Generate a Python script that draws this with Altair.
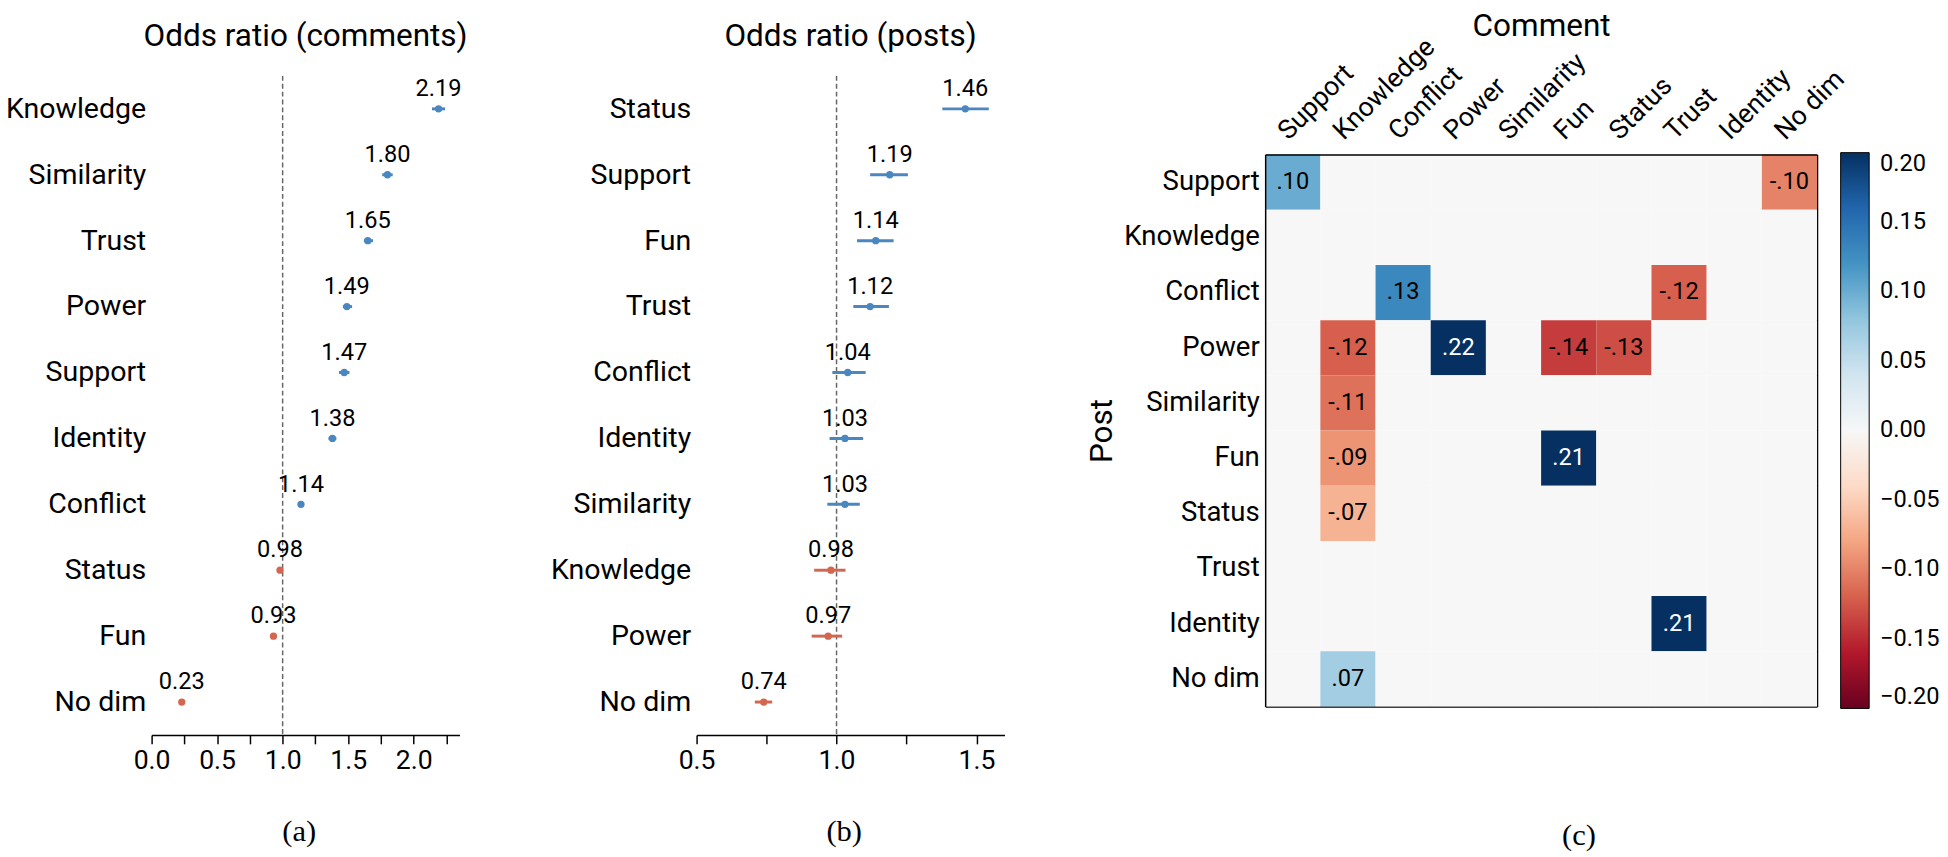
import altair as alt
import pandas as pd

FONT = "Roboto"
BLUE = "#4a87c0"
RED = "#d4664f"

# ---- Panel (a): odds ratio (comments)
cats_a = ["Knowledge", "Similarity", "Trust", "Power", "Support",
          "Identity", "Conflict", "Status", "Fun", "No dim"]
or_a = [2.19, 1.80, 1.65, 1.49, 1.47, 1.38, 1.14, 0.98, 0.93, 0.23]
lo_a = [2.14, 1.76, 1.62, 1.46, 1.43, 1.35, 1.12, 0.96, 0.91, 0.21]
hi_a = [2.24, 1.84, 1.69, 1.53, 1.51, 1.41, 1.16, 1.00, 0.95, 0.25]

# ---- Panel (b): odds ratio (posts)
cats_b = ["Status", "Support", "Fun", "Trust", "Conflict",
          "Identity", "Similarity", "Knowledge", "Power", "No dim"]
or_b = [1.46, 1.19, 1.14, 1.12, 1.04, 1.03, 1.03, 0.98, 0.97, 0.74]
lo_b = [1.378, 1.12, 1.073, 1.06, 0.985, 0.975, 0.967, 0.92, 0.911, 0.708]
hi_b = [1.544, 1.255, 1.204, 1.187, 1.104, 1.095, 1.083, 1.032, 1.02, 0.77]

# ---- Panel (c): correlation heatmap (rows = Post, columns = Comment)
dims = ["Support", "Knowledge", "Conflict", "Power", "Similarity",
        "Fun", "Status", "Trust", "Identity", "No dim"]
row_support = [0.10, 0, 0, 0, 0, 0, 0, 0, 0, -0.10]
row_knowledge = [0, 0, 0, 0, 0, 0, 0, 0, 0, 0]
row_conflict = [0, 0, 0.13, 0, 0, 0, 0, -0.12, 0, 0]
row_power = [0, -0.12, 0, 0.22, 0, -0.14, -0.13, 0, 0, 0]
row_similarity = [0, -0.11, 0, 0, 0, 0, 0, 0, 0, 0]
row_fun = [0, -0.09, 0, 0, 0, 0.21, 0, 0, 0, 0]
row_status = [0, -0.07, 0, 0, 0, 0, 0, 0, 0, 0]
row_trust = [0, 0, 0, 0, 0, 0, 0, 0, 0, 0]
row_identity = [0, 0, 0, 0, 0, 0, 0, 0.21, 0, 0]
row_nodim = [0, 0.07, 0, 0, 0, 0, 0, 0, 0, 0]
matrix = [row_support, row_knowledge, row_conflict, row_power, row_similarity,
          row_fun, row_status, row_trust, row_identity, row_nodim]
cbar_ticks = [0.20, 0.15, 0.10, 0.05, 0.00, -0.05, -0.10, -0.15, -0.20]
# diverging RdBu colour stops (low -> high)
rdbu_stops = [-0.2, -0.16, -0.12, -0.08, -0.04, 0.0, 0.04, 0.08, 0.12, 0.16, 0.2]
rdbu_colors = ["#67001f", "#b2182b", "#d6604d", "#f4a582", "#fddbc7", "#f7f7f7",
               "#d1e5f0", "#92c5de", "#4393c3", "#2166ac", "#053061"]

PANEL_H = 670      # plot height of panels (a) and (b)
HEAT = 561         # heatmap side
HEAT_TOP = 80      # heatmap offset below the panels' top edge


def odds_panel(cats, ors, los, his, title, domain, ticks, caption, width):
    df = pd.DataFrame({"cat": cats, "or": ors, "lo": los, "hi": his})
    df["label"] = [f"{v:.2f}" for v in ors]
    df["sign"] = ["pos" if v >= 1 else "neg" for v in ors]
    y = alt.Y("cat:N", sort=cats,
              scale=alt.Scale(paddingInner=0, paddingOuter=0),
              axis=alt.Axis(title=None, labelFontSize=29, labelFont=FONT,
                            labelColor="black", ticks=False, domain=False,
                            labelPadding=6, labelLimit=400))
    xscale = alt.Scale(domain=domain, nice=False, zero=False)
    xaxis = alt.Axis(values=ticks,
                     labelExpr="abs(datum.value*2 - round(datum.value*2)) < 0.001 ? format(datum.value, '.1f') : ''",
                     labelFontSize=27, labelFont=FONT, labelColor="black",
                     tickColor="black", domainColor="black", tickSize=9,
                     tickWidth=1.5, domainWidth=1.5, labelPadding=4,
                     grid=False, labelFlush=False, labelOverlap=False,
                     title=caption, titleFont="Liberation Serif",
                     titleFontSize=31, titleFontWeight="normal",
                     titleColor="black", titlePadding=44,
                     titleX=width / 2 - 7)
    color = alt.Color("sign:N", scale=alt.Scale(domain=["pos", "neg"], range=[BLUE, RED]),
                      legend=None)
    base = alt.Chart(df)
    ref = alt.Chart(pd.DataFrame({"x": [1.0]})).mark_rule(
        color="#666666", strokeDash=[5, 3], strokeWidth=1.5
    ).encode(x=alt.X("x:Q", scale=xscale, axis=xaxis))
    bars = base.mark_rule(strokeWidth=3).encode(
        x=alt.X("lo:Q", scale=xscale, axis=xaxis), x2="hi:Q", y=y, color=color)
    pts = base.mark_circle(size=55, opacity=1).encode(
        x=alt.X("or:Q", scale=xscale, axis=xaxis), y=y, color=color)
    txt = base.mark_text(dy=-13, baseline="alphabetic", fontSize=24, font=FONT,
                         color="black").encode(
        x=alt.X("or:Q", scale=xscale, axis=xaxis), y=y, text="label:N")
    return alt.layer(ref, bars, pts, txt).properties(
        width=width, height=PANEL_H,
        title=alt.Title(title, fontSize=32, font=FONT, fontWeight="normal",
                        color="black", offset=23, anchor="middle"),
    )


panel_a = odds_panel(cats_a, or_a, lo_a, hi_a, "Odds ratio (comments)", [0, 2.35],
                     [0, 0.25, 0.5, 0.75, 1.0, 1.25, 1.5, 1.75, 2.0, 2.25], "(a)", 313)
panel_b = odds_panel(cats_b, or_b, lo_b, hi_b, "Odds ratio (posts)", [0.5, 1.6],
                     [0.5, 0.75, 1.0, 1.25, 1.5], "(b)", 313)

# heatmap table
recs = []
for i, post in enumerate(dims):
    for j, comment in enumerate(dims):
        v = matrix[i][j]
        lab = f"{v:.2f}".replace("0.", ".") if v != 0 else ""
        recs.append({"post": post, "comment": comment, "value": v, "label": lab})
df_h = pd.DataFrame(recs)

xscale_h = alt.Scale(paddingInner=0, paddingOuter=0)
yscale_h = alt.Scale(paddingInner=0, paddingOuter=0, range=[HEAT_TOP, HEAT_TOP + HEAT])

x_top = alt.X("comment:N", sort=dims, scale=xscale_h,
              axis=alt.Axis(orient="top", offset=-HEAT_TOP, title="Comment",
                            labelAngle=-45, ticks=False, domain=True,
                            domainColor="black", domainWidth=1.5,
                            labelFontSize=27, labelFont=FONT, labelColor="black",
                            labelPadding=10, titleFontSize=32, titleFont=FONT,
                            titleFontWeight="normal", titleColor="black",
                            titlePadding=-10, labelLimit=300))
y_left = alt.Y("post:N", sort=dims, scale=yscale_h,
               axis=alt.Axis(orient="left", title="Post", ticks=False, domain=True,
                             domainColor="black", domainWidth=1.5,
                             labelFontSize=28, labelFont=FONT, labelColor="black",
                             labelPadding=6, titleFontSize=32, titleFont=FONT,
                             titleFontWeight="normal", titleColor="black",
                             titlePadding=5, labelLimit=300))
x_bottom = alt.X("comment:N", sort=dims, scale=xscale_h,
                 axis=alt.Axis(orient="bottom", offset=-(PANEL_H - HEAT_TOP - HEAT),
                               labels=False, ticks=False, domain=True,
                               domainColor="black", domainWidth=1.5,
                               title="(c)", titleFont="Liberation Serif",
                               titleFontSize=31, titleFontWeight="normal",
                               titleColor="black", titlePadding=116,
                               titleX=HEAT / 2 + 38))
y_right = alt.Y("post:N", sort=dims, scale=yscale_h,
                axis=alt.Axis(orient="right", labels=False, ticks=False, domain=True,
                              domainColor="black", domainWidth=1.5, title=None))

hbase = alt.Chart(df_h)
rects = hbase.mark_rect().encode(
    x=x_top, y=y_left,
    color=alt.Color("value:Q",
                    scale=alt.Scale(domain=rdbu_stops, range=rdbu_colors, clamp=True,
                                    interpolate="rgb"),
                    legend=alt.Legend(title=None, orient="none", legendX=HEAT + 24,
                                      legendY=HEAT_TOP - 2,
                                      direction="vertical", gradientLength=565,
                                      gradientThickness=29, values=cbar_ticks,
                                      format=".2f", labelFontSize=24, labelFont=FONT,
                                      labelColor="black", labelOffset=11,
                                      labelBaseline="middle",
                                      gradientStrokeColor="black",
                                      gradientStrokeWidth=1)))
htext = hbase.transform_filter("datum.value != 0").mark_text(
    fontSize=24, font=FONT).encode(
    x=x_bottom, y=y_right, text="label:N",
    color=alt.condition("abs(datum.value) > 0.15", alt.value("white"), alt.value("black")))
heat = alt.layer(rects, htext).resolve_axis(x="independent", y="independent").properties(
    width=HEAT, height=PANEL_H,
)

chart = alt.concat(panel_a, panel_b, heat, columns=3, spacing=83).properties(
    padding={"left": -3, "top": -5, "right": 0, "bottom": 0}
).configure(font=FONT).configure_view(stroke=None)

chart.save("out.html", embed_options={"renderer": "svg", "actions": False})
